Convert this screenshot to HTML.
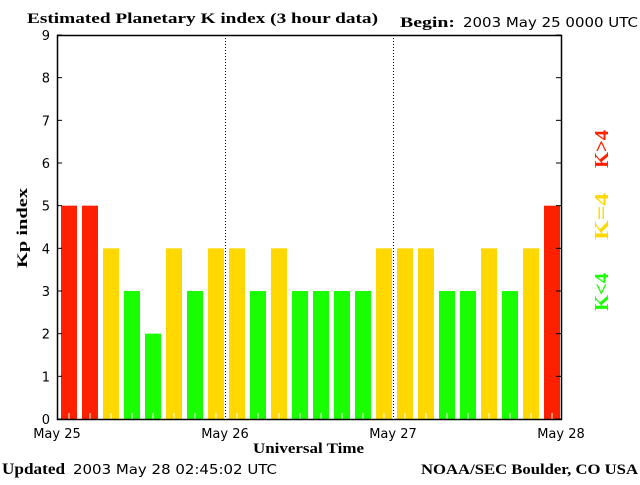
<!DOCTYPE html>
<html><head><meta charset="utf-8"><style>
body{margin:0;background:#fff;width:640px;height:480px;overflow:hidden}
svg text{font-family:"Liberation Serif",serif;}
.s{font-family:"DejaVu Sans","Liberation Sans",sans-serif;font-size:13px}
</style></head><body>
<svg width="640" height="480">
<text x="27" y="23" font-size="15" font-weight="bold" textLength="351" lengthAdjust="spacingAndGlyphs">Estimated Planetary K index (3 hour data)</text>
<text x="400" y="27" font-size="15" font-weight="bold" textLength="55" lengthAdjust="spacingAndGlyphs">Begin:</text>
<text x="463" y="27" class="s" textLength="175" lengthAdjust="spacingAndGlyphs">2003 May 25 0000 UTC</text>
<g id="bars"></g>
<g id="axes"></g>
<text transform="translate(27,228) rotate(-90)" text-anchor="middle" font-size="15" font-weight="bold" textLength="80" lengthAdjust="spacingAndGlyphs">Kp index</text>
<text x="253" y="453" font-size="15" font-weight="bold" textLength="111" lengthAdjust="spacingAndGlyphs">Universal Time</text>
<text x="2" y="474" font-size="16" font-weight="bold" textLength="63" lengthAdjust="spacingAndGlyphs">Updated</text>
<text x="73" y="474" class="s" textLength="204" lengthAdjust="spacingAndGlyphs">2003 May 28 02:45:02 UTC</text>
<text x="421" y="474" font-size="15" font-weight="bold" textLength="217" lengthAdjust="spacingAndGlyphs">NOAA/SEC Boulder, CO USA</text>
<text transform="translate(608,168) rotate(-90)" font-size="20" font-weight="bold" fill="#ff2000" textLength="38" lengthAdjust="spacingAndGlyphs">K&gt;4</text>
<text transform="translate(608,240) rotate(-90)" font-size="20" font-weight="bold" fill="#ffd800" textLength="47" lengthAdjust="spacingAndGlyphs">K=4</text>
<text transform="translate(608,311) rotate(-90)" font-size="20" font-weight="bold" fill="#1aff00" textLength="38" lengthAdjust="spacingAndGlyphs">K&lt;4</text>
</svg>
<script>
const kpValues=[5,5,4,3,2,4,3,4, 4,3,4,3,3,3,3,4, 4,4,3,3,4,3,4,5];
const yTicks=[0,1,2,3,4,5,6,7,8,9];
const dayLabels=["May 25","May 26","May 27","May 28"];
const L=57,R=561,T=35,B=419,NS="http://www.w3.org/2000/svg";
const x=i=>L+(R-L)*i/kpValues.length;
const y=v=>B-(B-T)*v/9;
function mk(t,a,p){const e=document.createElementNS(NS,t);for(const k in a)e.setAttribute(k,a[k]);p.appendChild(e);return e;}
const bars=document.getElementById('bars'),axes=document.getElementById('axes');
const bw=(R-L)/kpValues.length;
kpValues.forEach((v,i)=>{
 const c=v>4?'#ff2000':v==4?'#ffd800':'#1aff00';
 const r=mk('rect',{x:x(i)+4,y:y(v),width:bw-5,height:B-y(v),fill:c},bars);
 
 
 mk('line',{x1:x(i)+4+(bw-5)/2,x2:x(i)+4+(bw-5)/2,y1:B-6,y2:B,stroke:'#fff','stroke-width':1},bars);
});
for(let d=1;d<3;d++){const xx=L+(R-L)*d/3;mk('line',{x1:xx+0.5,x2:xx+0.5,y1:T,y2:B,stroke:'#000','stroke-dasharray':'1,2'},axes);}
mk('rect',{x:L+0.5,y:T+0.5,width:R-L,height:B-T,fill:'none',stroke:'#000','stroke-width':1.5},axes);
yTicks.forEach(t=>{const yy=y(t);
 mk('line',{x1:L,x2:L+5,y1:yy,y2:yy,stroke:'#000'},axes);
 mk('line',{x1:R-5,x2:R,y1:yy,y2:yy,stroke:'#000'},axes);
 const tx=mk('text',{x:L-7,y:yy+5,'text-anchor':'end',class:'s','font-size':14},axes);tx.textContent=t;
 
 
});
dayLabels.forEach((d,i)=>{const xx=L+(R-L)*i/3;
 const tx=mk('text',{x:xx,y:438,'text-anchor':'middle',class:'s'},axes);tx.textContent=d;
 
 
});
</script>
</body></html>
